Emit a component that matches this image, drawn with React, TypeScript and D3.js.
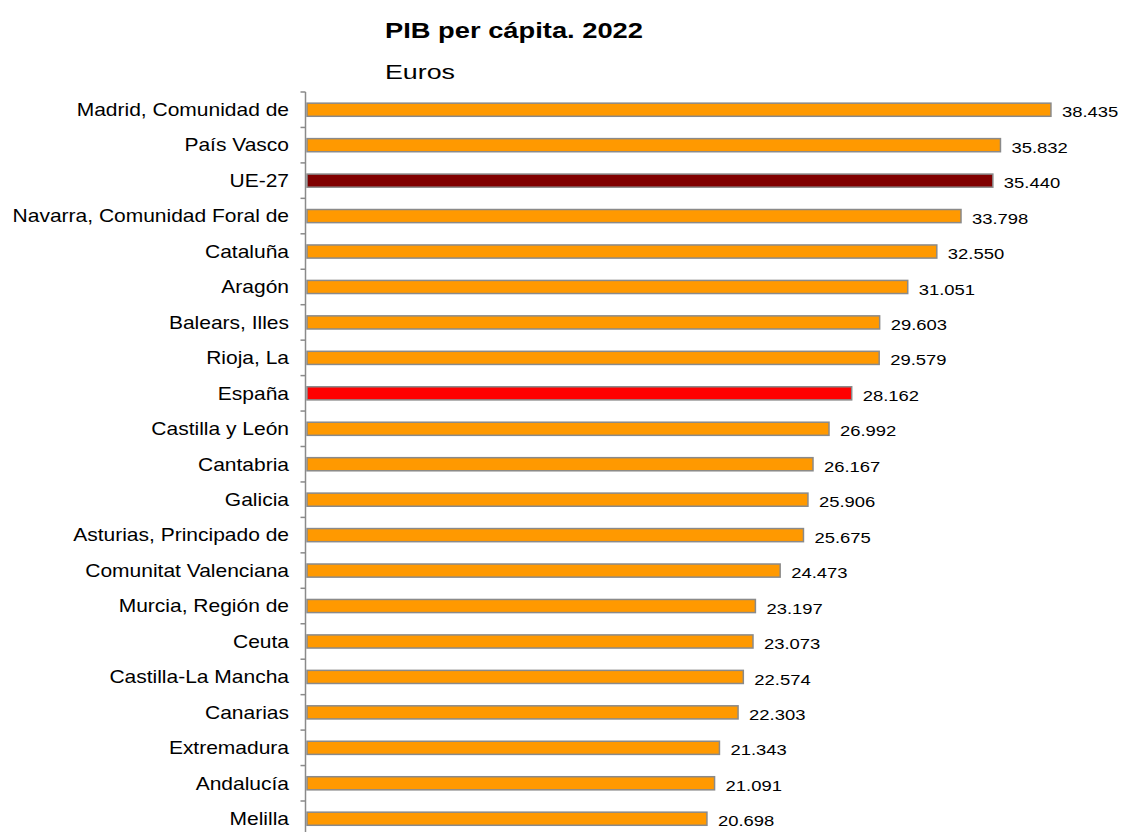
import React, { useEffect, useRef } from "react";
import * as d3 from "d3";

const categories = [
  "Madrid, Comunidad de", "País Vasco", "UE-27", "Navarra, Comunidad Foral de", "Cataluña",
  "Aragón", "Balears, Illes", "Rioja, La", "España", "Castilla y León", "Cantabria", "Galicia",
  "Asturias, Principado de", "Comunitat Valenciana", "Murcia, Región de", "Ceuta ",
  "Castilla-La Mancha", "Canarias", "Extremadura", "Andalucía", "Melilla",
];
const values = [
  38435, 35832, 35440, 33798, 32550, 31051, 29603, 29579, 28162, 26992, 26167, 25906,
  25675, 24473, 23197, 23073, 22574, 22303, 21343, 21091, 20698,
];
const title = "PIB per cápita. 2022";
const subtitle = "Euros";

const W = 1121;
const H = 840;
const FONT = "Liberation Sans, Arial, sans-serif";

export default function App() {
  const ref = useRef<SVGSVGElement>(null);
  useEffect(() => {
    const svg = d3.select(ref.current);
    svg.selectAll("*").remove();
    const x0 = 305.5;
    const x = d3.scaleLinear().domain([0, 40000]).range([x0, x0 + 775.8]);
    const y = d3.scaleBand<string>().domain(categories).range([92, 92 + 35.45 * 21]).paddingInner(0.63).paddingOuter(0.315);
    const fmt = (v: number) => d3.format(",")(v).replace(/,/g, ".");
    const color = (c: string) => (c === "UE-27" ? "#800000" : c === "España" ? "#FF0000" : "#FF9900");

    svg.append("text").attr("x", 385).attr("y", 38).attr("font-family", FONT)
      .attr("font-size", 22).attr("font-weight", "bold").attr("fill", "#000")
      .attr("textLength", 258).attr("lengthAdjust", "spacingAndGlyphs").text(title);
    svg.append("text").attr("x", 385).attr("y", 79).attr("font-family", FONT)
      .attr("font-size", 20).attr("fill", "#000")
      .attr("textLength", 70).attr("lengthAdjust", "spacingAndGlyphs").text(subtitle);

    const g = svg.append("g");
    g.selectAll("rect.bar").data(categories).enter().append("rect")
      .attr("x", x(0) + 1.5)
      .attr("y", (c) => y(c)!)
      .attr("width", (c, i) => x(values[i]) - x(0) - 1.5)
      .attr("height", y.bandwidth())
      .attr("fill", (c) => color(c))
      .attr("stroke", "#8a8a8a").attr("stroke-width", 1.5);

    const step = y.step();
    g.append("line").attr("x1", x0).attr("x2", x0).attr("y1", 92).attr("y2", 92 + step * 21)
      .attr("stroke", "#8a8a8a").attr("stroke-width", 1.5);
    d3.range(22).forEach((i) => {
      g.append("line").attr("x1", x0 - 5).attr("x2", x0).attr("y1", 92 + step * i).attr("y2", 92 + step * i)
        .attr("stroke", "#8a8a8a").attr("stroke-width", 1.5);
    });

    const labelScale = 1.2;
    g.selectAll("text.cat").data(categories).enter().append("text")
      .attr("transform", (c) => `translate(289,${y(c)! + y.bandwidth() / 2}) scale(${labelScale},1)`)
      .attr("dy", "0.36em").attr("text-anchor", "end")
      .attr("font-family", FONT).attr("font-size", 17.5).attr("fill", "#000")
      .text((c) => c);

    const valScale = 1.19;
    g.selectAll("text.val").data(categories).enter().append("text")
      .attr("transform", (c, i) => `translate(${x(values[i]) + 11},${y(c)! + y.bandwidth() / 2 + 2}) scale(${valScale},1)`)
      .attr("dy", "0.36em")
      .attr("font-family", FONT).attr("font-size", 15.5).attr("fill", "#000")
      .text((c, i) => fmt(values[i]));
  }, []);
  return (
    <svg ref={ref} width={W} height={H} style={{ position: "absolute", left: 0, top: 0, background: "#fff" }} />
  );
}
